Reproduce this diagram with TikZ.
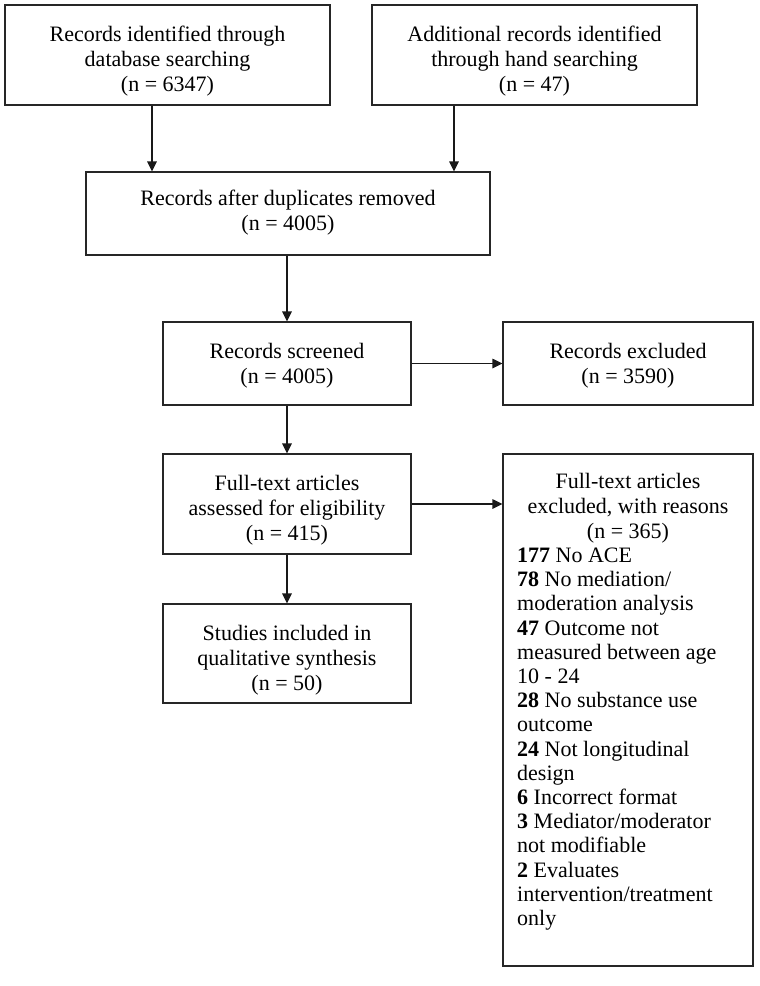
\documentclass[tikz,border=0pt]{standalone}
\usepackage{fontspec}
\setmainfont{Liberation Serif}
\usetikzlibrary{arrows.meta}
\begin{document}
\begin{tikzpicture}[x=1pt,y=-1pt,
  box/.style={draw=black!85, line width=1.1pt, rectangle, inner sep=0pt},
  arr/.style={line width=1.1pt, draw=black!90, -{Triangle[length=10pt,width=9.5pt]}},
  txt/.style={inner sep=0pt, align=center, font=\fontsize{22}{25}\selectfont},
  ltxt/.style={inner sep=0pt, align=left, font=\fontsize{22}{24.2}\selectfont}]
\useasboundingbox[fill=white] (0,0) rectangle (760,986);
% boxes
\node[box, minimum width=325pt, minimum height=100pt] (db) at (167.5,55) {};
\node[box, minimum width=325pt, minimum height=100pt] (hand) at (534.5,55) {};
\node[box, minimum width=404pt, minimum height=83pt] (dup) at (288,213.5) {};
\node[box, minimum width=248pt, minimum height=83pt] (scr) at (287,363.5) {};
\node[box, minimum width=250pt, minimum height=83pt] (exc) at (628,363.5) {};
\node[box, minimum width=248pt, minimum height=100pt] (full) at (287,504) {};
\node[box, minimum width=248pt, minimum height=99pt] (stud) at (287,653.5) {};
\node[box, minimum width=250pt, minimum height=512pt] (reas) at (628,710) {};
% texts
\node[txt] (dbtext) at (167.5,61) {Records identified through\\database searching\\(n = 6347)};
\node[txt] (handtext) at (534.5,61) {Additional records identified\\through hand searching\\(n = 47)};
\node[txt] (duptext) at (288,213) {Records after duplicates removed\\(n = 4005)};
\node[txt] (scrtext) at (287,365.5) {Records screened\\(n = 4005)};
\node[txt] (exctext) at (628,365.5) {Records excluded\\(n = 3590)};
\node[txt] (fulltext) at (287,510.5) {Full-text articles\\assessed for eligibility\\(n = 415)};
\node[txt] (studtext) at (287,660) {Studies included in\\qualitative synthesis\\(n = 50)};
\node[txt] (reashead) at (628,508.5) {Full-text articles\\excluded, with reasons\\(n = 365)};
\node[ltxt, anchor=west] (reaslist) at (517,739) {\textbf{177} No ACE\\
\textbf{78} No mediation/\\
moderation analysis\\
\textbf{47} Outcome not\\
measured between age\\
10 - 24\\
\textbf{28} No substance use\\
outcome\\
\textbf{24} Not longitudinal\\
design\\
\textbf{6} Incorrect format\\
\textbf{3} Mediator/moderator\\
not modifiable\\
\textbf{2} Evaluates\\
intervention/treatment\\
only};
% connectors
\coordinate (c1) at (152,0);
\coordinate (c2) at (454,0);
\draw[arr] (c1 |- db.south) -- (c1 |- dup.north);
\draw[arr] (c2 |- hand.south) -- (c2 |- dup.north);
\draw[arr] (scr.north |- dup.south) -- (scr.north);
\draw[arr] (scr.east) -- (exc.west);
\draw[arr] (scr.south) -- (full.north);
\draw[arr] (full.east) -- (full.east -| reas.west);
\draw[arr] (full.south) -- (stud.north);
\end{tikzpicture}
\end{document}
